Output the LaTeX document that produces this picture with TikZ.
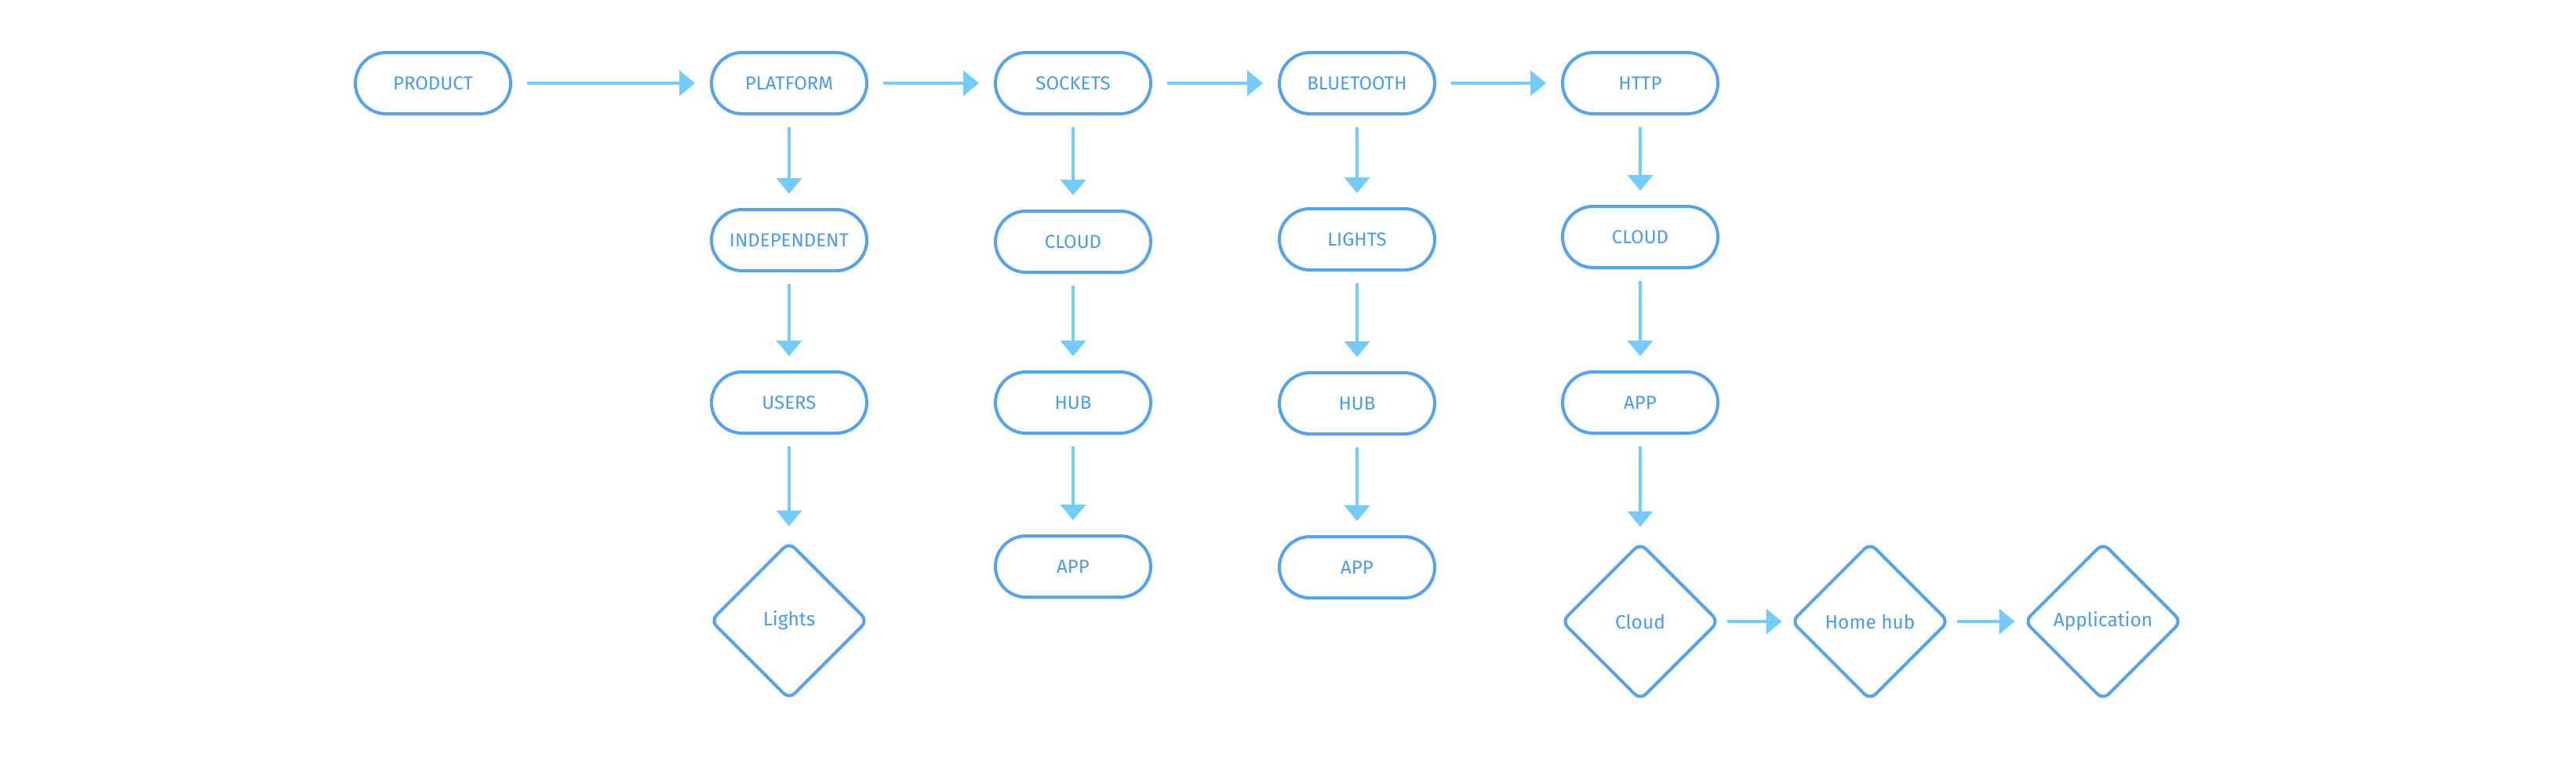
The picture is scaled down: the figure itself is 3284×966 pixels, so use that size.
\documentclass[tikz,border=0pt]{standalone}
\usepackage{fontspec}
\setmainfont{Fira Sans}
\usetikzlibrary{arrows.meta,shapes.geometric}
\definecolor{pillblue}{HTML}{55A2EE}
\definecolor{arrowblue}{HTML}{74CCFC}
\definecolor{textblue}{HTML}{4A9BEA}
\tikzset{
  pill/.style={draw=pillblue, line width=4pt, rectangle, rounded corners=39pt,
    minimum width=198pt, minimum height=78pt, inner sep=0pt,
    text=textblue, font=\fontsize{24}{28}\selectfont},
  dia/.style={draw=pillblue, line width=4pt, diamond, aspect=1, rounded corners=10pt,
    minimum width=201pt, minimum height=201pt, inner sep=0pt,
    text=textblue, font=\fontsize{24.5}{28}\selectfont},
  conn/.style={draw=arrowblue, line width=4pt, -{Triangle[length=20pt,width=32pt]}},
  hconn/.style={conn, shorten <=19pt, shorten >=19pt},
  vconn/.style={conn, shorten <=15pt, shorten >=18pt},
  dconn/.style={conn, shorten <=8pt, shorten >=10pt}
}
\begin{document}
\begin{tikzpicture}[x=1pt,y=-1pt]
\useasboundingbox (0,0) rectangle (3284,966);
% top row
\node[pill] (prod) at (552,106) {PRODUCT};
\node[pill] (plat) at (1006,106) {PLATFORM};
\node[pill] (sock) at (1368,106) {SOCKETS};
\node[pill] (blue) at (1730,106) {BLUETOOTH};
\node[pill] (http) at (2091,106) {HTTP};
% column platform
\node[pill] (indep) at (1006,306) {INDEPENDENT};
\node[pill] (users) at (1006,513) {USERS};
\node[dia] (lightsd) at (1006,791) {Lights};
% column sockets
\node[pill] (cloudA) at (1368,308) {CLOUD};
\node[pill] (hubA) at (1368,513) {HUB};
\node[pill] (appA) at (1368,722) {APP};
% column bluetooth
\node[pill] (lights) at (1730,305) {LIGHTS};
\node[pill] (hubB) at (1730,514) {HUB};
\node[pill] (appB) at (1730,723) {APP};
% column http
\node[pill] (cloudB) at (2091,302) {CLOUD};
\node[pill] (appC) at (2091,513) {APP};
\node[dia] (cloudd) at (2091,792) {Cloud};
\node[dia] (homehub) at (2384,792) {Home hub};
\node[dia] (appd) at (2681,792) {Application};
% connectors
\draw[hconn] (prod) -- (plat);
\draw[hconn] (plat) -- (sock);
\draw[hconn] (sock) -- (blue);
\draw[hconn] (blue) -- (http);
\draw[vconn] (plat) -- (indep);
\draw[vconn] (indep) -- (users);
\draw[vconn] (users) -- (lightsd);
\draw[vconn] (sock) -- (cloudA);
\draw[vconn] (cloudA) -- (hubA);
\draw[vconn] (hubA) -- (appA);
\draw[vconn] (blue) -- (lights);
\draw[vconn] (lights) -- (hubB);
\draw[vconn] (hubB) -- (appB);
\draw[vconn] (http) -- (cloudB);
\draw[vconn] (cloudB) -- (appC);
\draw[vconn] (appC) -- (cloudd);
\draw[dconn] (cloudd) -- (homehub);
\draw[dconn] (homehub) -- (appd);
\end{tikzpicture}
\end{document}
